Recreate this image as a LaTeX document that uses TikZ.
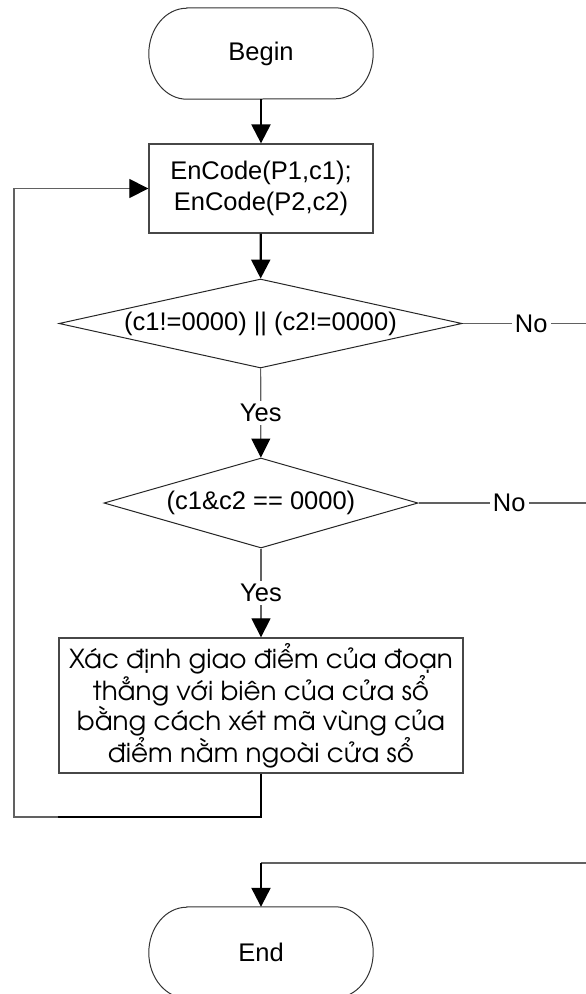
\documentclass[tikz,border=0pt]{standalone}
\usepackage{fontspec}
\setmainfont{Liberation Sans}
\newfontfamily\vnfont{TeX Gyre Adventor}
\usetikzlibrary{arrows.meta,shapes.geometric}
\begin{document}
\begin{tikzpicture}[x=1pt,y=-1pt,
  font=\fontsize{25.5}{30.5}\selectfont,
  tip/.style={-{Triangle[length=19pt,width=19pt,color=black]}},
  thinln/.style={line width=1.2pt,draw=black!62},
  thickln/.style={line width=2.3pt,draw=black},
  procbox/.style={draw=black!72,line width=1.3pt,rectangle,align=center,inner sep=0pt},
  termbox/.style={rectangle,inner sep=0pt,minimum width=224pt,minimum height=91pt},
  termline/.style={draw=black!80,line width=1pt},
  decision/.style={draw=black!85,line width=1pt,diamond,inner sep=0pt},
  lbl/.style={fill=white,inner sep=3pt,text=black}]
\useasboundingbox (0,0) rectangle (586,994);
\clip (0,0) rectangle (586,994);
% nodes
\node[termbox] (b) at (261,53.5) {Begin};
\draw[termline] ([xshift=38pt]b.north west) -- ([xshift=-38pt]b.north east)
  arc[start angle=90,end angle=-90,x radius=38pt,y radius=45.5pt]
  -- ([xshift=38pt]b.south west)
  arc[start angle=270,end angle=90,x radius=38pt,y radius=45.5pt] -- cycle;
\node[procbox,minimum width=224pt,minimum height=89pt] (p1) at (261,188.5) {EnCode(P1,c1);\\EnCode(P2,c2)};
\node[decision,aspect=4.53,minimum width=403pt,minimum height=89pt] (d1) at (260.5,323.5) {(c1!=0000) || (c2!=0000)};
\node[decision,aspect=3.49,minimum width=314pt,minimum height=90pt] (d2) at (261,503) {(c1\&c2 == 0000)};
\node[procbox,minimum width=404pt,minimum height=135pt,font=\vnfont\fontsize{26.2}{30.3}\selectfont] (p2) at (261,705.5)
  {Xác định giao điểm của đoạn\\thẳng với biên của cửa sổ\\bằng cách xét mã vùng của\\điểm nằm ngoài cửa sổ};
\node[termbox] (e) at (261,952.5) {End};
\draw[termline] ([xshift=38pt]e.north west) -- ([xshift=-38pt]e.north east)
  arc[start angle=90,end angle=-90,x radius=38pt,y radius=45.5pt]
  -- ([xshift=38pt]e.south west)
  arc[start angle=270,end angle=90,x radius=38pt,y radius=45.5pt] -- cycle;
% helper coordinates
\coordinate (rx) at (600,0);
\coordinate (ej) at (261,863);
\coordinate (lb) at (261,817);
\coordinate (ll) at (14,817);
% connectors
\draw[thickln,tip] (b) -- (p1);
\draw[thickln,tip] (p1) -- (d1);
\draw[thinln,tip] (d1) -- node[lbl] (y1) {Yes} (d2);
\draw[thinln,tip] (d2) -- node[lbl] (y2) {Yes} (p2);
\draw[thinln] (d1.east) -- node[lbl] (n1) {No} (d1.east -| rx) -- (rx |- ej) -- (ej);
\draw[thinln] (d2.east) -- node[lbl] (n2) {No} (d2.east -| rx);
\draw[thickln,tip] (ej) -- (e);
\draw[thickln] (p2.south) -- (lb) -- (lb -| p2.west);
\draw[thinln,tip] (lb -| p2.west) -- (ll) |- (p1.west);
\end{tikzpicture}
\end{document}
